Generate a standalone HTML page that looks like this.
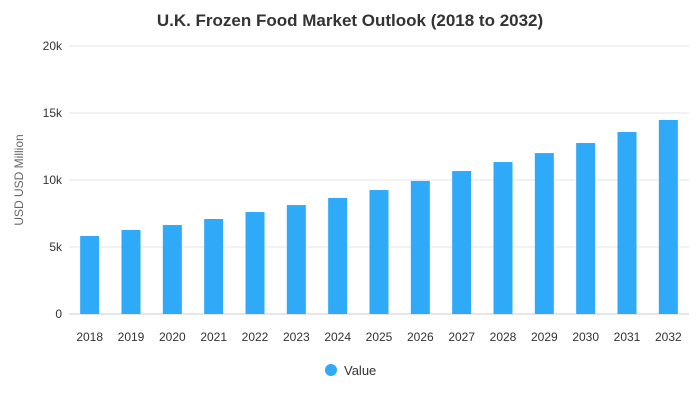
<!DOCTYPE html>
<html><head><meta charset="utf-8"><style>
body{margin:0;background:#fff;font-family:"Liberation Sans",sans-serif;}
</style></head><body>
<svg id="chart" width="700" height="400" xmlns="http://www.w3.org/2000/svg" font-family="Liberation Sans, sans-serif">
<text x="350" y="26" text-anchor="middle" font-size="17" font-weight="bold" fill="#333">U.K. Frozen Food Market Outlook (2018 to 2032)</text>
<text transform="translate(23,180) rotate(-90)" text-anchor="middle" font-size="12" fill="#666">USD USD Million</text>
<g id="grid"></g><g id="bars"></g><g id="xlabels"></g>
<g>
<circle cx="331" cy="370" r="6" fill="#2eaaf8"/>
<text x="344" y="375" font-size="13" fill="#333">Value</text>
</g>
</svg>
<script>
const categories=["2018","2019","2020","2021","2022","2023","2024","2025","2026","2027","2028","2029","2030","2031","2032"];
const values=[5.82,6.27,6.64,7.09,7.61,8.13,8.66,9.25,9.93,10.67,11.34,12.01,12.76,13.58,14.48];
const ticks=[0,5,10,15,20];
const tickLabels=["0","5k","10k","15k","20k"];
const ns="http://www.w3.org/2000/svg";
const x0=69,x1=689,y0=314,y1=46,ymax=20;
const y=v=>y0-(v/ymax)*(y0-y1);
const bw=(x1-x0)/categories.length;
const xc=i=>x0+bw*(i+0.5);
function mk(t,a,p){const e=document.createElementNS(ns,t);for(const k in a)e.setAttribute(k,a[k]);p.appendChild(e);return e;}
const g=document.getElementById('grid');
ticks.forEach((t,i)=>{
 const l=mk('line',{x1:x0,x2:x1,y1:y(t),y2:y(t),stroke:t===0?'#ccc':'#e6e6e6'},g);
 
 
 const tx=mk('text',{x:62,y:y(t)+4,'text-anchor':'end','font-size':12,fill:'#333'},g);
 tx.textContent=tickLabels[i];
 
 
});
const b=document.getElementById('bars'),xl=document.getElementById('xlabels');
values.forEach((v,i)=>{
 const r=mk('rect',{x:xc(i)-9.5,y:y(v),width:19,height:y0-y(v),fill:'#2eaaf8'},b);
 
 
 const t=mk('text',{x:xc(i),y:341,'text-anchor':'middle','font-size':12,fill:'#333'},xl);
 t.textContent=categories[i];
 
 
});
</script>
</body></html>
